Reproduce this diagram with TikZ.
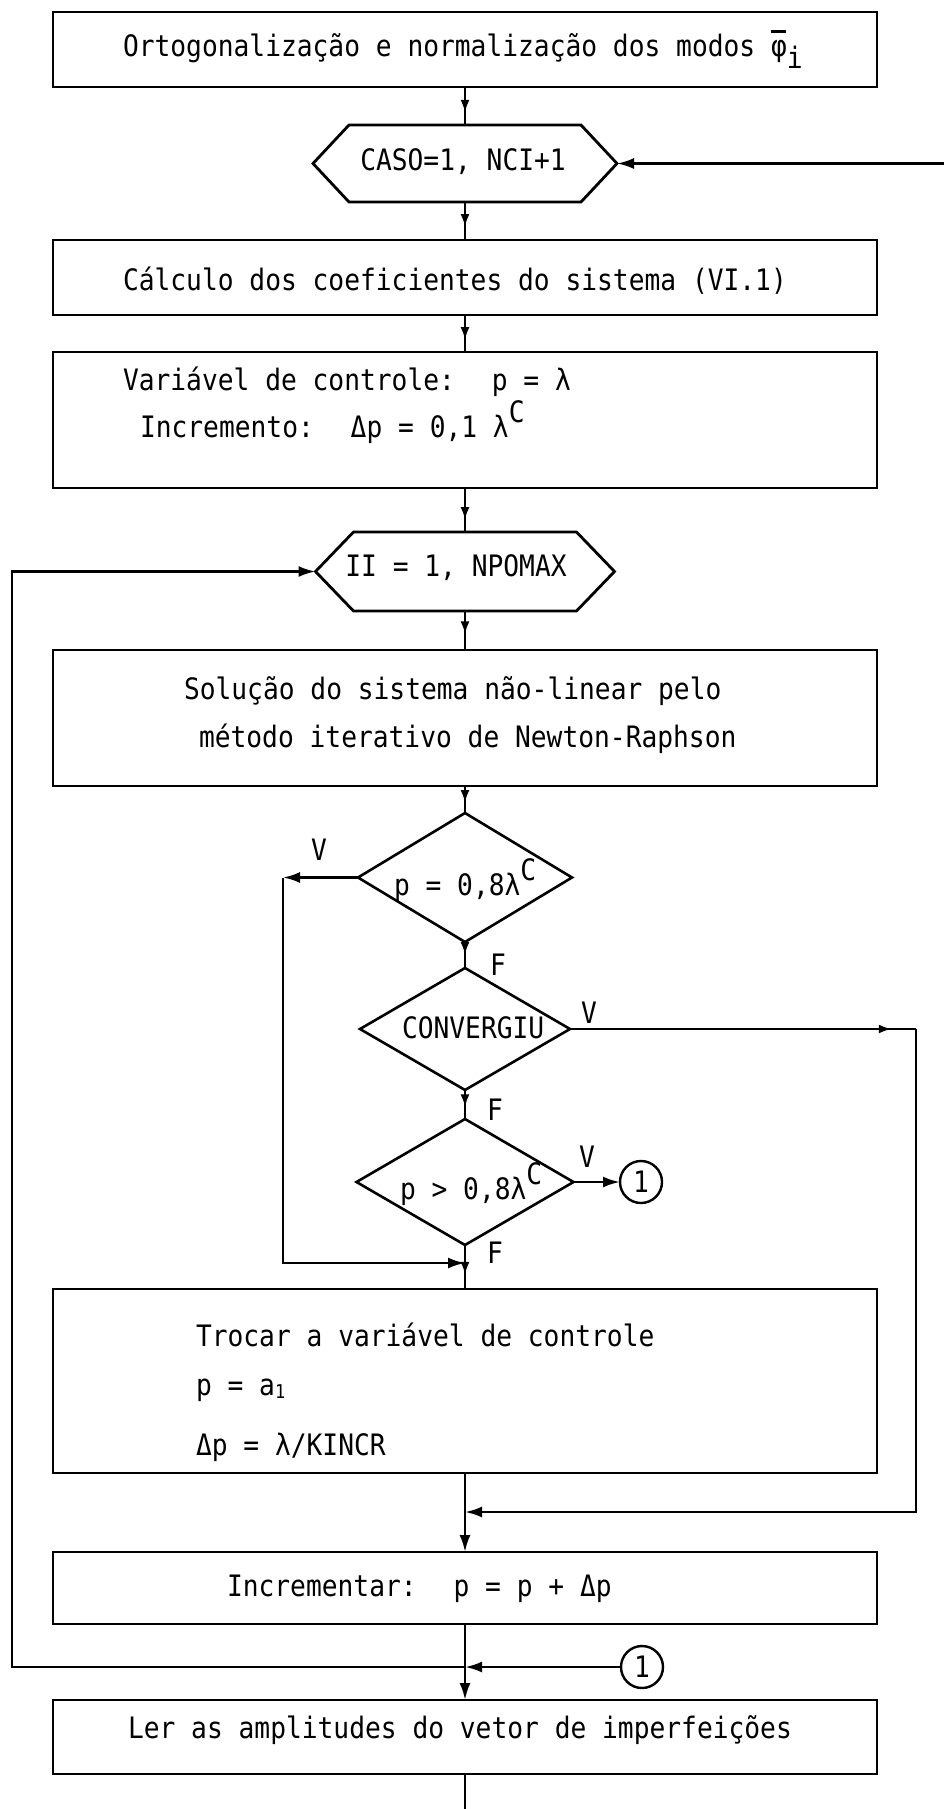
\documentclass[tikz,border=0pt]{standalone}
\usepackage{fontspec}
\newfontfamily\twfont{DejaVu Sans Mono}[FakeStretch=0.89]
\usetikzlibrary{arrows.meta,shapes.geometric,decorations.markings,calc}
\newcommand{\mylamC}{λ\raisebox{15pt}{C}}
\newcommand{\myphibar}{\makebox[0pt][l]{\hspace{0pt}\raisebox{24pt}{\rule{15pt}{2.6pt}}}φ\raisebox{-12pt}{i}}
\begin{document}
\begin{tikzpicture}[x=1pt,y=-1pt,
  every node/.style={font=\twfont\fontsize{29.5}{35}\selectfont, inner sep=0pt, outer sep=0pt},
  ln/.style={line width=2.6pt},
  box/.style={draw, line width=2.8pt, rectangle, minimum width=824pt},
  hexline/.style={line width=2.8pt, line join=miter},
  dia/.style={draw, diamond, line width=2.6pt},
  txt/.style={anchor=base west},
  ctxt/.style={anchor=base},
  conn/.style={draw, circle, line width=2.4pt, minimum size=42pt},
  >={Latex[length=17pt,width=11pt]},
  mid/.style={postaction={decorate},
    decoration={markings, mark=at position #1 with {\arrow{Latex[length=13pt,width=9pt]}}}}
]
\useasboundingbox (0,0) rectangle (944,1809);

% boxes
\node[box, minimum height=75pt] (b1) at (465,49.5) {};
\node[txt] (t1) at (123,57) {Ortogonalização e normalização dos modos \myphibar};

\node (caso) at (465,163.5) [minimum width=232pt, minimum height=77pt] {};
\coordinate (caso-e) at ($(caso.east)+(36,0)$);
\coordinate (caso-w) at ($(caso.west)+(-36,0)$);
\draw[hexline] (caso.north west) -- (caso.north east) -- (caso-e) -- (caso.south east) -- (caso.south west) -- (caso-w) -- cycle;
\node[ctxt] (tcaso) at (463,170) {CASO=1, NCI+1};

\node[box, minimum height=75pt] (b2) at (465,277.5) {};
\node[txt] (t2) at (123,290) {Cálculo dos coeficientes do sistema (VI.1)};

\node[box, minimum height=136pt] (b3) at (465,420) {};
\node[txt] (t3a) at (123,390) {Variável de controle:~ p = λ};
\node[txt] (t3b) at (140,437) {Incremento:~ Δp = 0,1 \mylamC};

\node (ii) at (465,571.5) [minimum width=223pt, minimum height=79pt] {};
\coordinate (ii-e) at ($(ii.east)+(38,0)$);
\coordinate (ii-w) at ($(ii.west)+(-38,0)$);
\draw[hexline] (ii.north west) -- (ii.north east) -- (ii-e) -- (ii.south east) -- (ii.south west) -- (ii-w) -- cycle;
\node[ctxt] (tii) at (456,576) {II = 1, NPOMAX};

\node[box, minimum height=136pt] (b4) at (465,718) {};
\node[txt] (t4a) at (184,699) {Solução do sistema não-linear pelo};
\node[txt] (t4b) at (199,747) {método iterativo de Newton-Raphson};

\node[dia, minimum width=214pt, minimum height=129pt] (d1) at (465,877.5) {};
\node[txt] (td1) at (394,895) {p = 0,8\mylamC};

\node[dia, minimum width=210pt, minimum height=122pt] (d2) at (465,1029) {};
\node[txt] (td2) at (402,1038) {CONVERGIU};

\node[dia, minimum width=217pt, minimum height=126pt] (d3) at (465,1182) {};
\node[txt] (td3) at (400,1199) {p > 0,8\mylamC};

\node[conn] (con1) at (641,1182) {1};

\node[box, minimum height=184pt] (b5) at (465,1381) {};
\node[txt] (t5a) at (196,1346) {Trocar a variável de controle};
\node[txt] (t5b) at (196,1395) {p = a\raisebox{-3pt}{\fontsize{19}{20}\selectfont 1}};
\node[txt] (t5c) at (196,1455) {Δp = λ/KINCR};

\node[box, minimum height=72pt] (b6) at (465,1588) {};
\node[txt] (t6) at (227,1596) {Incrementar:~ p = p + Δp};

\node[conn] (con2) at (642,1667) {1};

\node[box, minimum height=74pt] (b7) at (465,1737) {};
\node[txt] (t7) at (128,1738) {Ler as amplitudes do vetor de imperfeições};

% labels
\node[txt] (lv1) at (311,860) {V};
\node[txt] (lf1) at (490,975) {F};
\node[txt] (lv2) at (581,1023) {V};
\node[txt] (lf2) at (487,1120) {F};
\node[txt] (lv3) at (579,1167) {V};
\node[txt] (lf3) at (487,1263) {F};

% coordinates
\coordinate (redge) at (944,163.5);
\coordinate (c1) at (283,877.5);
\coordinate (j1) at (465,1263);
\coordinate (c2) at (916,1029);
\coordinate (j3) at (465,1512);
\coordinate (j2) at (465,1667);
\coordinate (lc1) at (12,1667);
\coordinate (lc2) at (12,571.5);
\coordinate (bot) at (465,1809);

% connectors
\draw[ln, mid=0.68] (b1.south) -- (caso.north);
\draw[ln, ->] (redge) -- (caso-e);
\draw[ln, mid=0.66] (caso.south) -- (b2.north);
\draw[ln, mid=0.68] (b2.south) -- (b3.north);
\draw[ln, mid=0.73] (b3.south) -- (ii.north);
\draw[ln, mid=0.6] (ii.south) -- (b4.north);
\draw[ln, mid=0.63] (b4.south) -- (d1.north);
\draw[ln, mid=0.5] (d1.south) -- (d2.north);
\draw[ln, mid=0.6] (d2.south) -- (d3.north);
\draw[ln, mid=0.68] (d3.south) -- (b5.north);
\draw[ln, ->] (b5.south) -- (b6.north);
\draw[ln, ->] (b6.south) -- (b7.north);
\draw[ln] (b7.south) -- (bot);

\draw[ln, ->] (d1.west) -- (c1);
\draw[ln, ->] (c1) |- (j1);
\draw[ln, mid=0.93] (d2.east) -- (c2);
\draw[ln, ->] (c2) |- (j3);
\draw[ln, ->] (d3.east) -- (con1.west);
\draw[ln, ->] (con2.west) -- (j2);
\draw[ln, ->] (j2) -- (lc1) -- (lc2) -- (ii-w);
\end{tikzpicture}
\end{document}
